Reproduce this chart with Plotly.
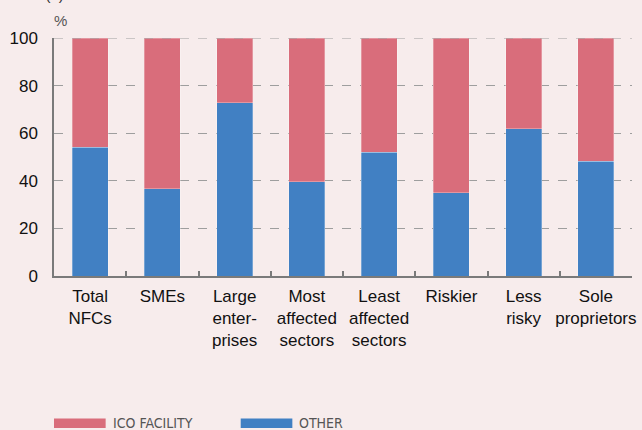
import plotly.graph_objects as go

categories = ["Total<br>NFCs", "SMEs", "Large<br>enter-<br>prises", "Most<br>affected<br>sectors",
              "Least<br>affected<br>sectors", "Riskier", "Less<br>risky", "Sole<br>proprietors"]
other = [54.2, 36.6, 72.7, 39.7, 52.0, 35.0, 61.9, 48.2]
ico_facility = [round(100 - v, 1) for v in other]
y_ticks = [0, 20, 40, 60, 80, 100]

RED = "#D96D7B"
BLUE = "#4180C3"
BG = "#F7ECEC"
W, H = 642, 430
L, R, T, B = 54, 6, 38, 154

def px_x(x):
    return (x - L) / (W - L - R)

def px_y(y):
    return (H - B - y) / (H - T - B)

fig = go.Figure()
fig.add_bar(x=categories, y=other, name="OTHER", marker_color=BLUE,
            marker_line=dict(color="rgba(255,255,255,0.35)", width=0.8), width=0.5,
            showlegend=False)
fig.add_bar(x=categories, y=ico_facility, name="ICO FACILITY", marker_color=RED,
            marker_line=dict(color="rgba(255,255,255,0.35)", width=0.8), width=0.5,
            showlegend=False)

fig.update_layout(
    barmode="stack",
    width=W, height=H,
    margin=dict(l=L, r=R, t=T, b=B),
    paper_bgcolor=BG, plot_bgcolor=BG,
    font=dict(family="Liberation Sans, Arial, sans-serif", size=17, color="#111111"),
)
fig.update_xaxes(
    showline=True, linecolor="#7a7a7a", linewidth=1.5,
    ticks="inside", tickson="boundaries", ticklen=5, tickcolor="#7a7a7a", tickwidth=1.5,
    showgrid=False, range=[-0.5, 7.5], tickangle=0, ticklabelstandoff=4,
    tickfont=dict(size=17, color="#111111"),
)
fig.update_yaxes(
    range=[0, 100], tickvals=y_ticks, showline=True, linecolor="#7a7a7a", linewidth=1.5,
    showgrid=True, gridcolor="#9e9e9e", griddash="dash", gridwidth=1,
    zeroline=False, ticks="", ticklabelstandoff=11,
    tickfont=dict(size=17, color="#111111"),
)

# dashed line at the top of the scale
fig.add_shape(type="line", xref="paper", yref="y", x0=0, x1=1, y0=100, y1=100,
              line=dict(color="#9e9e9e", width=1, dash="dash"))

# header texts
fig.add_annotation(text="2020 (a)", xref="paper", yref="paper", x=px_x(7), y=px_y(4),
                   xanchor="left", yanchor="bottom", showarrow=False, borderpad=0,
                   font=dict(size=15, color="#333333"))
fig.add_annotation(text="%", xref="paper", yref="paper", x=px_x(53), y=px_y(30),
                   xanchor="left", yanchor="bottom", showarrow=False, borderpad=0,
                   font=dict(size=15, color="#555555"))

# legend drawn as wide swatches with labels
legend_items = [("ICO FACILITY", RED, 54), ("OTHER", BLUE, 242)]
for label, color, x0 in legend_items:
    fig.add_shape(type="rect", xref="paper", yref="paper",
                  x0=px_x(x0), x1=px_x(x0 + 52), y0=px_y(428), y1=px_y(418.5),
                  fillcolor=color, line_width=0)
    fig.add_annotation(text=label, xref="paper", yref="paper", x=px_x(x0 + 58), y=px_y(422.5),
                       xanchor="left", yanchor="middle", showarrow=False, borderpad=0,
                       font=dict(family="DejaVu Sans Condensed, Liberation Sans Narrow, sans-serif",
                                 size=14, color="#555555"))

fig.write_html("out.html")
